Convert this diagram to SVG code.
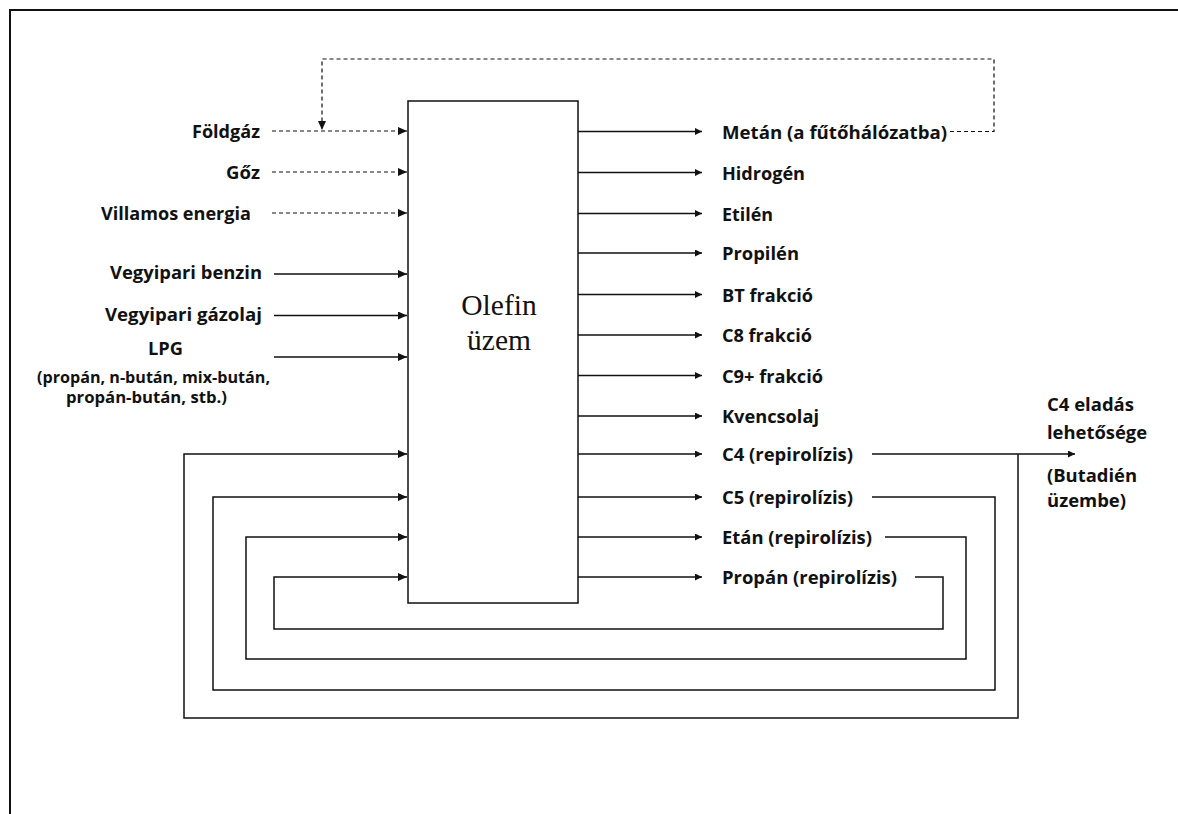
<svg xmlns="http://www.w3.org/2000/svg" width="1178" height="814" viewBox="0 0 1178 814">
<style>
.lbl{font-family:"Open Sans","Noto Sans","Liberation Sans",sans-serif;font-weight:bold;font-size:18px;fill:#111}
.sm{font-family:"Open Sans","Noto Sans","Liberation Sans",sans-serif;font-weight:bold;font-size:15.5px;fill:#111}
.end{text-anchor:end}
.ln{fill:none;stroke:#111;stroke-width:1.5}
.dash{fill:none;stroke:#111;stroke-width:1.2;stroke-dasharray:4 3}
.box{fill:#fff;stroke:#111;stroke-width:1.5}
.title{font-family:"Liberation Serif","Times New Roman",serif;font-size:29.5px;fill:#111;text-anchor:middle}
</style>
<defs>
<marker id="ah" markerUnits="userSpaceOnUse" markerWidth="10" markerHeight="10" refX="9" refY="4" orient="auto">
<path d="M0,0 L9,4 L0,8 Z" fill="#111"/>
</marker>
<marker id="ahs" markerUnits="userSpaceOnUse" markerWidth="10" markerHeight="10" refX="7" refY="3.5" orient="auto">
<path d="M0,0 L7,3.5 L0,7 Z" fill="#111"/>
</marker>
</defs>
<rect width="1178" height="814" fill="#fff"/>
<path d="M10,814 L10,10 L1178,10" fill="none" stroke="#111" stroke-width="2"/>

<g id="connectors">
<path class="dash" d="M272,131 H407" marker-end="url(#ah)"/>
<path class="dash" d="M272,172 H407" marker-end="url(#ah)"/>
<path class="dash" d="M272,213 H407" marker-end="url(#ah)"/>
<path class="dash" d="M950,131.5 H994 V59 H322 V130" marker-end="url(#ah)"/>
<path class="ln" d="M274,274 H407" marker-end="url(#ah)"/>
<path class="ln" d="M274,315.5 H407" marker-end="url(#ah)"/>
<path class="ln" d="M274,357 H407" marker-end="url(#ah)"/>
<path class="ln" d="M578,131.5 H702" marker-end="url(#ahs)"/>
<path class="ln" d="M578,172.5 H702" marker-end="url(#ahs)"/>
<path class="ln" d="M578,213.5 H702" marker-end="url(#ahs)"/>
<path class="ln" d="M578,253 H702" marker-end="url(#ahs)"/>
<path class="ln" d="M578,294.5 H702" marker-end="url(#ahs)"/>
<path class="ln" d="M578,335 H702" marker-end="url(#ahs)"/>
<path class="ln" d="M578,375.5 H702" marker-end="url(#ahs)"/>
<path class="ln" d="M578,416 H702" marker-end="url(#ahs)"/>
<path class="ln" d="M578,454 H702" marker-end="url(#ahs)"/>
<path class="ln" d="M578,497 H702" marker-end="url(#ahs)"/>
<path class="ln" d="M578,537 H702" marker-end="url(#ahs)"/>
<path class="ln" d="M578,577 H702" marker-end="url(#ahs)"/>
<path class="ln" d="M872,454 H1075" marker-end="url(#ahs)"/>
<path class="ln" d="M1018,454 V718 H184 V454 H407" marker-end="url(#ah)"/>
<path class="ln" d="M872,497 H995 V690 H213 V497 H407" marker-end="url(#ah)"/>
<path class="ln" d="M885,537 H966 V659 H246 V537 H407" marker-end="url(#ah)"/>
<path class="ln" d="M915,577 H943 V629 H274 V577 H407" marker-end="url(#ah)"/>
</g>

<g id="olefin-uzem">
<rect class="box" x="408" y="101" width="170" height="502"/>
<text class="title" x="499" y="315">Olefin</text>
<text class="title" x="499" y="350">üzem</text>
</g>

<g id="in-foldgaz"><text class="lbl end" x="260" y="137.5" textLength="68" lengthAdjust="spacingAndGlyphs">Földgáz</text></g>
<g id="in-goz"><text class="lbl end" x="260" y="178.5" textLength="34" lengthAdjust="spacingAndGlyphs">Gőz</text></g>
<g id="in-villamos"><text class="lbl end" x="251" y="219.5" textLength="150" lengthAdjust="spacingAndGlyphs">Villamos energia</text></g>
<g id="in-benzin"><text class="lbl end" x="262" y="279" textLength="152" lengthAdjust="spacingAndGlyphs">Vegyipari benzin</text></g>
<g id="in-gazolaj"><text class="lbl end" x="262" y="320.5" textLength="157" lengthAdjust="spacingAndGlyphs">Vegyipari gázolaj</text></g>
<g id="in-lpg">
<text class="lbl" x="148" y="355" textLength="35" lengthAdjust="spacingAndGlyphs">LPG</text>
<text class="sm" x="37" y="383" textLength="233" lengthAdjust="spacingAndGlyphs">(propán, n-bután, mix-bután,</text>
<text class="sm" x="66" y="403" textLength="161" lengthAdjust="spacingAndGlyphs">propán-bután, stb.)</text>
</g>

<g id="out-metan"><text class="lbl" x="722" y="138.5" textLength="225" lengthAdjust="spacingAndGlyphs">Metán (a fűtőhálózatba)</text></g>
<g id="out-hidrogen"><text class="lbl" x="722" y="179.5" textLength="83" lengthAdjust="spacingAndGlyphs">Hidrogén</text></g>
<g id="out-etilen"><text class="lbl" x="722" y="220.5" textLength="51" lengthAdjust="spacingAndGlyphs">Etilén</text></g>
<g id="out-propilen"><text class="lbl" x="722" y="260" textLength="77" lengthAdjust="spacingAndGlyphs">Propilén</text></g>
<g id="out-bt"><text class="lbl" x="722" y="301.5" textLength="91" lengthAdjust="spacingAndGlyphs">BT frakció</text></g>
<g id="out-c8"><text class="lbl" x="722" y="342" textLength="90" lengthAdjust="spacingAndGlyphs">C8 frakció</text></g>
<g id="out-c9"><text class="lbl" x="722" y="382.5" textLength="101" lengthAdjust="spacingAndGlyphs">C9+ frakció</text></g>
<g id="out-kvencsolaj"><text class="lbl" x="722" y="423" textLength="97" lengthAdjust="spacingAndGlyphs">Kvencsolaj</text></g>
<g id="out-c4"><text class="lbl" x="722" y="461" textLength="131" lengthAdjust="spacingAndGlyphs">C4 (repirolízis)</text></g>
<g id="out-c5"><text class="lbl" x="722" y="504" textLength="131" lengthAdjust="spacingAndGlyphs">C5 (repirolízis)</text></g>
<g id="out-etan"><text class="lbl" x="722" y="544" textLength="150" lengthAdjust="spacingAndGlyphs">Etán (repirolízis)</text></g>
<g id="out-propan"><text class="lbl" x="722" y="584" textLength="175" lengthAdjust="spacingAndGlyphs">Propán (repirolízis)</text></g>

<g id="c4-eladas">
<text class="lbl" x="1047" y="411" textLength="87" lengthAdjust="spacingAndGlyphs">C4 eladás</text>
<text class="lbl" x="1047" y="439" textLength="100" lengthAdjust="spacingAndGlyphs">lehetősége</text>
<text class="lbl" x="1047" y="482" textLength="90" lengthAdjust="spacingAndGlyphs">(Butadién</text>
<text class="lbl" x="1047" y="507" textLength="79" lengthAdjust="spacingAndGlyphs">üzembe)</text>
</g>
</svg>
